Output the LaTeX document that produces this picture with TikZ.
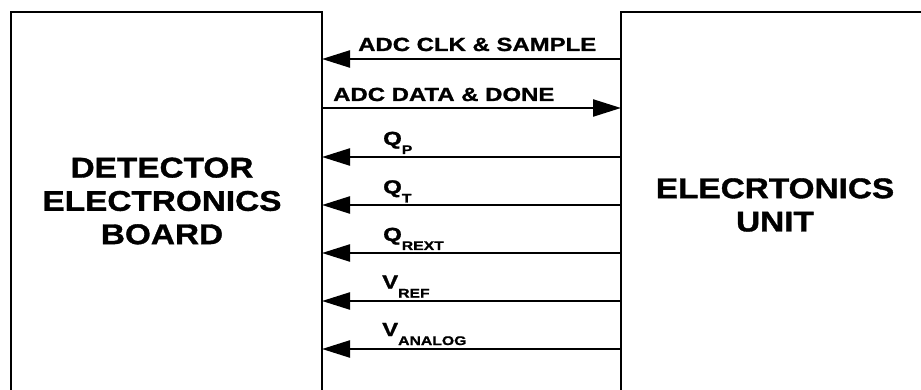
\documentclass[tikz,border=0pt]{standalone}
\usepackage{fontspec}
\setmainfont{Liberation Sans}
\newfontfamily\lblfont[FakeStretch=1.26,FakeBold=1.2]{Liberation Sans Bold}
\newfontfamily\bigfont[FakeStretch=1.17,FakeBold=1.2]{Liberation Sans Bold}
\usetikzlibrary{arrows.meta}
\newcommand\sbs[1]{\raisebox{-9pt}{\fontsize{12.5}{12.5}\selectfont #1}}
\begin{document}
\begin{tikzpicture}[x=1pt,y=-1pt,
  box/.style={draw, line width=2pt, minimum width=#1, minimum height=500pt, anchor=north west, inner sep=0pt, outer sep=0pt},
  sig/.style={line width=2.3pt, -{Triangle[length=28pt,width=17pt]}},
  lbl/.style={font=\lblfont\fontsize{19}{19}\selectfont, anchor=base west, inner sep=0pt},
  big/.style={font=\bigfont\fontsize{28.5}{33.3}\selectfont, align=center, inner sep=0pt}]
\useasboundingbox (0,0) rectangle (921,390);
\clip (0,0) rectangle (921,390);
\node[box=311pt] (det) at (11,12) {};
\node[box=400pt] (eu) at (621,12) {};
% connectors
\draw[sig] (eu.west |- 0,59) -- (det.east |- 0,59);
\draw[sig] (det.east |- 0,108) -- (eu.west |- 0,108);
\draw[sig] (eu.west |- 0,157) -- (det.east |- 0,157);
\draw[sig] (eu.west |- 0,205) -- (det.east |- 0,205);
\draw[sig] (eu.west |- 0,253) -- (det.east |- 0,253);
\draw[sig] (eu.west |- 0,301) -- (det.east |- 0,301);
\draw[sig] (eu.west |- 0,349) -- (det.east |- 0,349);
% labels
\node[lbl] (lclk) at (358,51) {ADC CLK \& SAMPLE};
\node[lbl] (ldata) at (333,101) {ADC DATA \& DONE};
\node[lbl] (lqp) at (383,145) {Q\sbs{P}};
\node[lbl] (lqt) at (383,193.5) {Q\sbs{T}};
\node[lbl] (lqr) at (383,241) {Q\sbs{REXT}};
\node[lbl] (lvr) at (382,288.5) {V\sbs{REF}};
\node[lbl] (lva) at (382,336) {V\sbs{ANALOG}};
\node[big] (detl) at (162,201) {DETECTOR\\ELECTRONICS\\BOARD};
\node[big] (eul) at (775,205) {ELECRTONICS\\UNIT};
\end{tikzpicture}
\end{document}
